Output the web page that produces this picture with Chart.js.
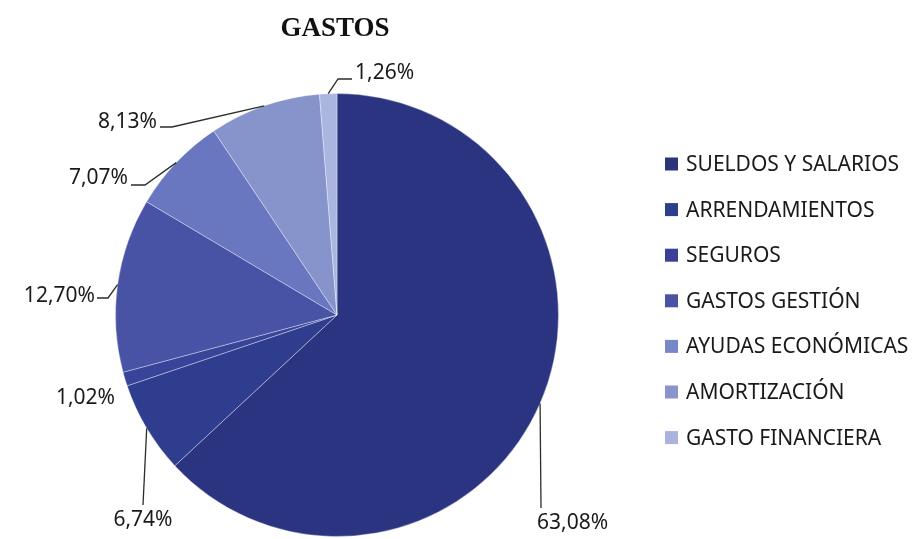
<!DOCTYPE html>
<html lang="es">
<head>
  <meta charset="UTF-8">
  <title>Gastos</title>
  <script src="https://cdn.jsdelivr.net/npm/chart.js"></script>
  <style>
    * { margin: 0; padding: 0; box-sizing: border-box; }
    body { background: #fff; width: 921px; height: 539px; overflow: hidden; }
    .wrap { position: relative; width: 921px; height: 539px; }
  </style>
</head>
<body>
  <div class="wrap">
    <canvas id="gastosChart" width="921" height="539"></canvas>
  </div>

  <script>
    const categories = ['SUELDOS Y SALARIOS', 'ARRENDAMIENTOS', 'SEGUROS', 'GASTOS GESTIÓN',
      'AYUDAS ECONÓMICAS', 'AMORTIZACIÓN', 'GASTO FINANCIERA'];
    const percentages = [63.08, 6.74, 1.02, 12.70, 7.07, 8.13, 1.26];
    const sliceLabels = ['63,08%', '6,74%', '1,02%', '12,70%', '7,07%', '8,13%', '1,26%'];

    const colors = ['#2b3480', '#2f3d8e', '#37449a', '#4853a6', '#6877bf', '#8794cc', '#abb6e0'];
    const legendColors = ['#2c3478', '#2e3f8a', '#3a4195', '#4a52a3', '#7688c8', '#8a94cc', '#a9b3dd'];

    // where each percentage label sits, and the bend of its leader line
    const labelLayout = [
      { x: 537, y: 523, align: 'left', path: [[541, 508]] },
      { x: 143, y: 520, align: 'center', path: [[143, 505]] },
      { x: 115, y: 398, align: 'right', path: null },
      { x: 95, y: 296, align: 'right', path: [[108, 298], [97, 298]] },
      { x: 128, y: 178, align: 'right', path: [[145, 185], [131, 185]] },
      { x: 157, y: 122, align: 'right', path: [[172, 127], [160, 127]] },
      { x: 355, y: 73, align: 'left', path: [[338, 79], [352, 79]] }
    ];

    const labelFont = '21px "Noto Sans", "Open Sans", sans-serif';

    const outsideLabels = {
      id: 'outsideLabels',
      afterDraw(chart) {
        const ctx = chart.ctx;
        const arcs = chart.getDatasetMeta(0).data;
        ctx.save();

        // title
        ctx.fillStyle = '#111';
        ctx.font = 'bold 27px "Liberation Serif", "DejaVu Serif", serif';
        ctx.textAlign = 'center';
        ctx.textBaseline = 'middle';
        ctx.fillText('GASTOS', 335, 29);

        // leader lines + percentages
        ctx.font = labelFont;
        ctx.strokeStyle = '#2a2f25';
        ctx.lineWidth = 1.3;
        arcs.forEach((arc, i) => {
          const p = arc.getProps(['x', 'y', 'startAngle', 'endAngle', 'outerRadius'], true);
          const mid = (p.startAngle + p.endAngle) / 2;
          const ax = p.x + Math.cos(mid) * p.outerRadius;
          const ay = p.y + Math.sin(mid) * p.outerRadius;
          const lay = labelLayout[i];
          if (lay.path) {
            ctx.beginPath();
            ctx.moveTo(ax, ay);
            lay.path.forEach(pt => ctx.lineTo(pt[0], pt[1]));
            ctx.stroke();
          }
          ctx.fillStyle = '#1a1a1a';
          ctx.textAlign = lay.align;
          ctx.textBaseline = 'middle';
          ctx.fillText(sliceLabels[i], lay.x, lay.y);
        });

        // legend
        const lx = 665, ly = 164, step = 45.6;
        ctx.textAlign = 'left';
        categories.forEach((name, i) => {
          const y = ly + i * step;
          ctx.fillStyle = legendColors[i];
          ctx.fillRect(lx, y - 6.5, 13, 13);
          ctx.fillStyle = '#1a1a1a';
          ctx.fillText(name, lx + 21, y + 1);
        });

        ctx.restore();
      }
    };

    const ctx = document.getElementById('gastosChart').getContext('2d');
    new Chart(ctx, {
      type: 'pie',
      data: {
        labels: categories,
        datasets: [{
          data: percentages,
          backgroundColor: colors,
          borderColor: 'rgba(255,255,255,0.35)',
          borderWidth: 1
        }]
      },
      options: {
        responsive: false,
        animation: false,
        layout: { padding: { left: 115, right: 362, top: 93, bottom: 2 } },
        plugins: {
          legend: { display: false },
          tooltip: { enabled: false }
        }
      },
      plugins: [outsideLabels]
    });
  </script>
</body>
</html>
